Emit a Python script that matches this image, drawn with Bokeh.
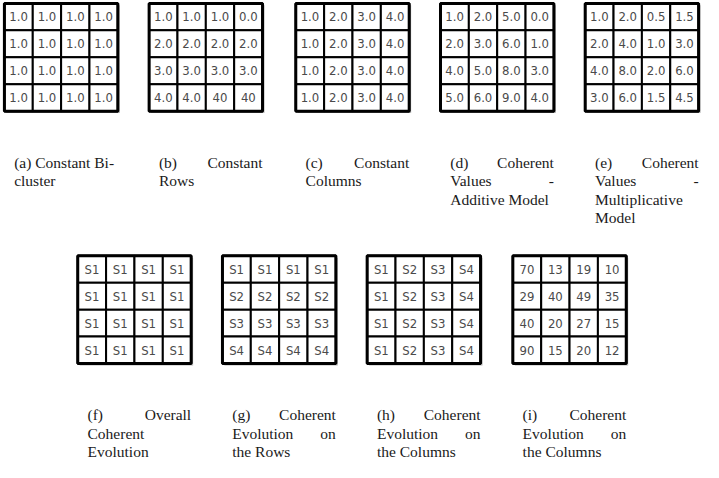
from bokeh.plotting import figure
from bokeh.models import Range1d, ColumnDataSource
from bokeh.core.properties import value
from bokeh.transform import dodge
from bokeh.embed import file_html
from bokeh.resources import INLINE

# ---------------- data ----------------
panel_ids = ["a", "b", "c", "d", "e", "f", "g", "h", "i"]

values_a = [["1.0", "1.0", "1.0", "1.0"],
            ["1.0", "1.0", "1.0", "1.0"],
            ["1.0", "1.0", "1.0", "1.0"],
            ["1.0", "1.0", "1.0", "1.0"]]
values_b = [["1.0", "1.0", "1.0", "0.0"],
            ["2.0", "2.0", "2.0", "2.0"],
            ["3.0", "3.0", "3.0", "3.0"],
            ["4.0", "4.0", "40", "40"]]
values_c = [["1.0", "2.0", "3.0", "4.0"],
            ["1.0", "2.0", "3.0", "4.0"],
            ["1.0", "2.0", "3.0", "4.0"],
            ["1.0", "2.0", "3.0", "4.0"]]
values_d = [["1.0", "2.0", "5.0", "0.0"],
            ["2.0", "3.0", "6.0", "1.0"],
            ["4.0", "5.0", "8.0", "3.0"],
            ["5.0", "6.0", "9.0", "4.0"]]
values_e = [["1.0", "2.0", "0.5", "1.5"],
            ["2.0", "4.0", "1.0", "3.0"],
            ["4.0", "8.0", "2.0", "6.0"],
            ["3.0", "6.0", "1.5", "4.5"]]
values_f = [["S1", "S1", "S1", "S1"],
            ["S1", "S1", "S1", "S1"],
            ["S1", "S1", "S1", "S1"],
            ["S1", "S1", "S1", "S1"]]
values_g = [["S1", "S1", "S1", "S1"],
            ["S2", "S2", "S2", "S2"],
            ["S3", "S3", "S3", "S3"],
            ["S4", "S4", "S4", "S4"]]
values_h = [["S1", "S2", "S3", "S4"],
            ["S1", "S2", "S3", "S4"],
            ["S1", "S2", "S3", "S4"],
            ["S1", "S2", "S3", "S4"]]
values_i = [["70", "13", "19", "10"],
            ["29", "40", "49", "35"],
            ["40", "20", "27", "15"],
            ["90", "15", "20", "12"]]

caption_a = ["(a) Constant Bi-", "cluster"]
caption_b = ["(b) Constant", "Rows"]
caption_c = ["(c) Constant", "Columns"]
caption_d = ["(d) Coherent", "Values -", "Additive Model"]
caption_e = ["(e) Coherent", "Values -", "Multiplicative", "Model"]
caption_f = ["(f) Overall", "Coherent", "Evolution"]
caption_g = ["(g) Coherent", "Evolution on", "the Rows"]
caption_h = ["(h) Coherent", "Evolution on", "the Columns"]
caption_i = ["(i) Coherent", "Evolution on", "the Columns"]

all_values = [values_a, values_b, values_c, values_d, values_e,
              values_f, values_g, values_h, values_i]
all_captions = [caption_a, caption_b, caption_c, caption_d, caption_e,
                caption_f, caption_g, caption_h, caption_i]

# ---------------- layout (page-like coordinates) ----------------
panel_x0 = [7, 155, 305, 453, 601, 82, 230, 378, 527]
panel_y0 = [9, 9, 9, 9, 9, 269, 269, 269, 269]
grid_w = 116
grid_h = 111
caption_y0 = [173, 173, 173, 173, 173, 433, 433, 433, 433]
caption_dx = 10
caption_w = 106
line_step = 18.8

cell_x, cell_y, cell_t = [], [], []
box_x, box_y = [], []
for k, vals in enumerate(all_values):
    nr, nc = len(vals), len(vals[0])
    cw, ch = grid_w / nc, grid_h / nr
    box_x.append(panel_x0[k] + grid_w / 2)
    box_y.append(panel_y0[k] + grid_h / 2)
    for r in range(nr):
        for c in range(nc):
            cell_x.append(panel_x0[k] + (c + 0.5) * cw)
            cell_y.append(panel_y0[k] + (r + 0.5) * ch)
            cell_t.append(vals[r][c])

cap_lx, cap_ly, cap_lt = [], [], []   # left aligned
cap_rx, cap_ry, cap_rt = [], [], []   # right aligned
for k, lines in enumerate(all_captions):
    left = panel_x0[k] + caption_dx
    right = left + caption_w
    for li, line in enumerate(lines):
        y = caption_y0[k] + li * line_step
        words = line.split(" ")
        last = li == len(lines) - 1
        if not last and len(words) == 2:
            cap_lx.append(left); cap_ly.append(y); cap_lt.append(words[0])
            cap_rx.append(right); cap_ry.append(y); cap_rt.append(words[1])
        else:
            cap_lx.append(left); cap_ly.append(y); cap_lt.append(line)

cells = ColumnDataSource(dict(x=cell_x, y=cell_y, t=cell_t))
boxes = ColumnDataSource(dict(x=box_x, y=box_y))
capl = ColumnDataSource(dict(x=cap_lx, y=cap_ly, t=cap_lt))
capr = ColumnDataSource(dict(x=cap_rx, y=cap_ry, t=cap_rt))

p = figure(width=703, height=462, output_backend="svg", toolbar_location=None,
           x_range=Range1d(3, 722), y_range=Range1d(482, 6),
           min_border=0, background_fill_color="white", border_fill_color="white")
p.axis.visible = False
p.grid.visible = False
p.outline_line_color = None

# shadow
p.rect(x=dodge("x", 2), y=dodge("y", 2), width=grid_w, height=grid_h, source=boxes,
       fill_color="#b8b8b8", line_color=None)
# cells
p.rect(x="x", y="y", width=grid_w / 4, height=grid_h / 4, source=cells,
       fill_color="white", line_color="black", line_width=2)
# outer border
p.rect(x="x", y="y", width=grid_w, height=grid_h, source=boxes,
       fill_color=None, line_color="black", line_width=3)

p.text(x="x", y="y", text="t", source=cells, text_align="center",
       text_baseline="middle", text_font=value("DejaVu Sans Condensed"),
       text_font_size="13px", text_color="#4a4a4a")

p.text(x="x", y="y", text="t", source=capl, text_align="left",
       text_baseline="middle", text_font=value("Liberation Serif"),
       text_font_size="15.5px", text_color="#1a1a1a")
p.text(x="x", y="y", text="t", source=capr, text_align="right",
       text_baseline="middle", text_font=value("Liberation Serif"),
       text_font_size="15.5px", text_color="#1a1a1a")

open("out.html", "w").write(file_html(p, INLINE))
